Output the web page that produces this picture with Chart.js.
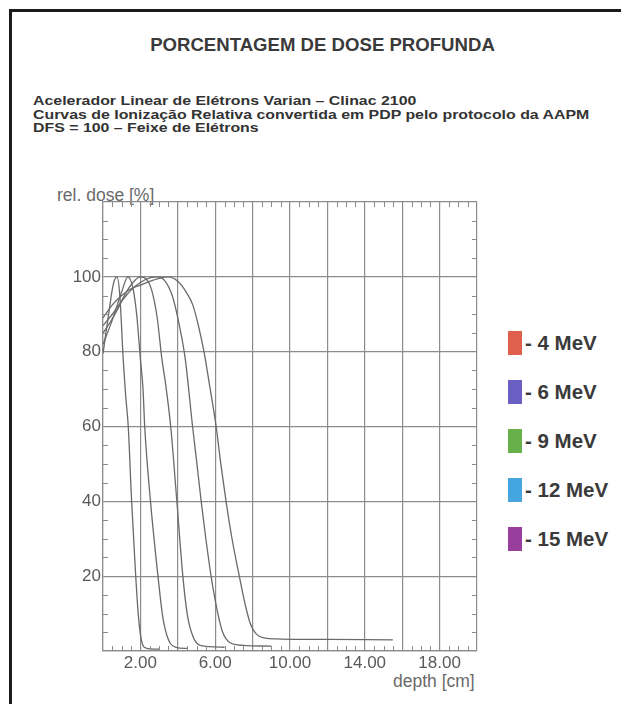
<!DOCTYPE html>
<html>
<head>
<meta charset="utf-8">
<script src="https://cdn.jsdelivr.net/npm/chart.js@4.4.0/dist/chart.umd.min.js"></script>
<style>
  html, body { margin: 0; padding: 0; background: #fff; }
  body { width: 621px; height: 704px; position: relative; overflow: hidden;
         font-family: "Liberation Sans", Arial, sans-serif; color: #333; }
  .frame-top  { position: absolute; left: 9px; top: 9px; width: 612px; height: 3px; background: #1b1b1b; }
  .frame-left { position: absolute; left: 9px; top: 9px; width: 3px; height: 695px; background: #1b1b1b; }
  #title { position: absolute; left: 0; width: 645px; top: 34px; text-align: center;
           font-size: 18.6px; font-weight: bold; color: #3a3a3a; }
  #sub { position: absolute; left: 33px; top: 94px; font-size: 15.9px; font-weight: bold;
         line-height: 16px; color: #333; white-space: nowrap;
         transform: scaleY(0.85); transform-origin: 0 0; }
  #ylab { position: absolute; left: 57px; top: 185px; font-size: 17.5px; color: #6a6a6a; }
  #xlab { position: absolute; left: 393px; top: 671px; font-size: 17.5px; color: #6a6a6a; }
  #legend { position: absolute; left: 508px; top: 318px; }
  .item { display: flex; align-items: center; height: 49px; font-size: 20.5px; font-weight: bold; color: #3a3a3a; }
  .sw { width: 14px; height: 24px; margin-right: 3px; }
  canvas { position: absolute; left: 0; top: 0; }
</style>
</head>
<body>
<div class="frame-top"></div>
<div class="frame-left"></div>
<div id="title">PORCENTAGEM DE DOSE PROFUNDA</div>
<div id="sub">Acelerador Linear de Elétrons Varian – Clinac 2100<br>Curvas de Ionização Relativa convertida em PDP pelo protocolo da AAPM<br>DFS = 100 – Feixe de Elétrons</div>
<div id="ylab">rel. dose [%]</div>
<div id="xlab">depth [cm]</div>
<div id="legend"></div>
<canvas id="chart" width="621" height="704"></canvas>

<script>
// ─── Data ────────────────────────────────────────────────────────────────────
const energies    = ['4 MeV', '6 MeV', '9 MeV', '12 MeV', '15 MeV'];
const swatchColors = ['#e0604e', '#6b5fc4', '#68b04a', '#45a6df', '#9a3e9e'];

const depth4  = [0, 0.3, 0.55, 0.75, 0.9, 1.08, 1.2, 1.35, 1.53, 1.75, 1.9, 2.05, 2.3, 3.0];
const dose4   = [79.5, 90, 98, 100, 95, 78, 69, 60, 40, 20, 9, 3, 0.8, 0.5];

const depth6  = [0, 0.5, 1.0, 1.33, 1.6, 1.8, 2.0, 2.14, 2.23, 2.54, 2.94, 3.2, 3.5, 3.9, 4.5];
const dose6   = [82, 88.5, 96, 100, 97, 90, 78, 70, 60, 40, 20, 9, 3, 1, 0.7];

const depth9  = [0, 0.4, 0.8, 1.2, 1.6, 2.0, 2.3, 2.6, 2.9, 3.15, 3.33, 3.62, 3.95, 4.27, 4.5, 4.8, 5.2, 6.5];
const dose9   = [85, 88, 91.5, 95.5, 98.5, 100, 99.5, 96.5, 89, 78, 72, 60, 40, 20, 10, 4, 1.5, 1];

const depth12 = [0, 0.5, 1.0, 1.5, 2.0, 2.5, 2.9, 3.3, 3.7, 4.0, 4.4, 4.79, 5.0, 5.25, 5.5, 5.78, 6.1, 6.4, 6.8, 7.5, 9.0];
const dose12  = [87, 90, 93.5, 96.5, 98.5, 99.7, 100, 99, 95, 89, 78, 60, 51, 40, 30, 20, 11, 5, 2.2, 1.5, 1.3];

const depth15 = [0, 0.5, 1.0, 1.5, 2.0, 2.5, 3.0, 3.5, 4.0, 4.5, 4.8, 5.1, 5.4, 5.7, 6.05, 6.3, 6.58, 6.9, 7.29, 7.6, 7.9, 8.2, 8.6, 9.5, 12.0, 15.5];
const dose15  = [89, 92.5, 95, 96.8, 97.8, 98.8, 99.6, 100, 98.8, 95.5, 92.5, 87, 80, 71, 60, 50, 40, 30, 20, 12.5, 7, 4.5, 3.5, 3.2, 3.1, 3.0];

const curves = [[depth4, dose4], [depth6, dose6], [depth9, dose9], [depth12, dose12], [depth15, dose15]];

const xLabelTicks = [2, 6, 10, 14, 18];
const yLabelTicks = [20, 40, 60, 80, 100];

// ─── Legend (coloured swatches only, curves are grey) ────────────────────────
document.getElementById('legend').innerHTML = energies.map((e, i) =>
  `<div class="item"><div class="sw" style="background:${swatchColors[i]}"></div>- ${e}</div>`
).join('');

// ─── Minor tick marks drawn inward on all four sides ─────────────────────────
const minorTicks = {
  id: 'minorTicks',
  afterDraw(chart) {
    const { ctx, chartArea: a, scales: { x, y } } = chart;
    ctx.save();
    ctx.strokeStyle = '#8c8c8c';
    ctx.lineWidth = 1;
    ctx.beginPath();
    for (let v = 5; v < 120; v += 5) {
      if (v % 20 === 0) continue;
      const py = Math.round(y.getPixelForValue(v)) + 0.5;
      ctx.moveTo(a.left, py);  ctx.lineTo(a.left + 5, py);
      ctx.moveTo(a.right, py); ctx.lineTo(a.right - 5, py);
    }
    for (let v = 0.5; v < 20; v += 0.5) {
      if (v % 2 === 0) continue;
      const px = Math.round(x.getPixelForValue(v)) + 0.5;
      ctx.moveTo(px, a.bottom); ctx.lineTo(px, a.bottom - 5);
      ctx.moveTo(px, a.top);    ctx.lineTo(px, a.top + 5);
    }
    ctx.stroke();
    ctx.restore();
  }
};

const tickFont = { family: '"Liberation Sans", Arial, sans-serif', size: 17 };

new Chart(document.getElementById('chart'), {
  type: 'scatter',
  data: {
    datasets: curves.map(([xs, ys], i) => ({
      label: energies[i],
      data: xs.map((d, k) => ({ x: d, y: ys[k] })),
      showLine: true,
      borderColor: '#6a6a6a',
      borderWidth: 1.3,
      pointRadius: 0,
      cubicInterpolationMode: 'monotone',
      fill: false,
    })),
  },
  options: {
    responsive: false,
    animation: false,
    devicePixelRatio: 1,
    layout: { padding: { left: 63, right: 144, top: 202, bottom: 23 } },
    plugins: { legend: { display: false }, tooltip: { enabled: false } },
    scales: {
      x: {
        type: 'linear', min: 0, max: 20,
        afterFit: s => { s.height = 30; },
        grid: { color: '#8c8c8c', lineWidth: 1.2, drawTicks: false },
        border: { color: '#8c8c8c', width: 1.2 },
        ticks: {
          stepSize: 2, autoSkip: false, maxRotation: 0, padding: 2,
          color: '#5a5a5a', font: tickFont,
          callback: v => xLabelTicks.includes(v) ? v.toFixed(2) : '',
        },
      },
      y: {
        type: 'linear', min: 0, max: 120,
        afterFit: s => { s.width = 40; },
        grid: { color: '#8c8c8c', lineWidth: 1.2, drawTicks: false },
        border: { color: '#8c8c8c', width: 1.2 },
        ticks: {
          stepSize: 20, padding: 2, color: '#5a5a5a', font: tickFont,
          callback: v => yLabelTicks.includes(v) ? String(v) : '',
        },
      },
    },
  },
  plugins: [minorTicks],
});
</script>
</body>
</html>
